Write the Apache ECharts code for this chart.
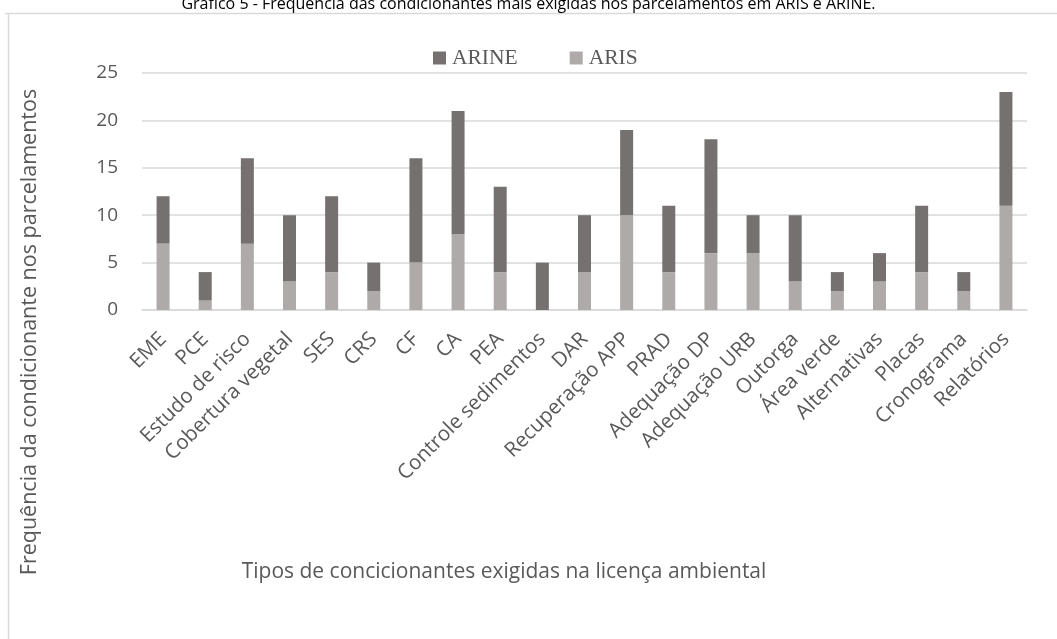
<!DOCTYPE html>
<html>
<head>
<meta charset="utf-8">
<script src="https://cdn.jsdelivr.net/npm/echarts@6/dist/echarts.min.js"></script>
<style>
  html, body { margin: 0; padding: 0; background: #fff; }
  #chart { width: 1057px; height: 639px; }
</style>
</head>
<body>
<div id="chart"></div>
<script>
var categories = ['EME', 'PCE', 'Estudo de risco', 'Cobertura vegetal', 'SES', 'CRS', 'CF', 'CA', 'PEA',
  'Controle sedimentos', 'DAR', 'Recuperação APP', 'PRAD', 'Adequação DP', 'Adequação URB', 'Outorga',
  'Área verde', 'Alternativas', 'Placas', 'Cronograma', 'Relatórios'];
var aris = [7, 1, 7, 3, 4, 2, 5, 8, 4, 0, 4, 10, 4, 6, 6, 3, 2, 3, 4, 2, 11];
var arine = [5, 3, 9, 7, 8, 3, 11, 13, 9, 5, 6, 9, 7, 12, 4, 7, 2, 3, 7, 2, 12];
var yTicks = [0, 5, 10, 15, 20, 25];

(function () {
  var myChart = echarts.init(document.getElementById('chart'));
  var font = '"Open Sans", sans-serif';
  var option = {
    animation: false,
    // 标题（上半部分被截掉）
    title: {
      text: 'Gráfico 5 - Frequência das condicionantes mais exigidas nos parcelamentos em ARIS e ARINE.',
      left: 'center',
      top: -9,
      textStyle: { fontFamily: font, fontSize: 16, fontWeight: 'normal', color: '#000' }
    },
    // 外框线和坐标轴标题
    graphic: [
      { type: 'line', shape: { x1: 5, y1: 13.5, x2: 1057, y2: 13.5 }, style: { stroke: '#d9d9d9', lineWidth: 1.5 }, silent: true },
      { type: 'line', shape: { x1: 8.5, y1: 13, x2: 8.5, y2: 639 }, style: { stroke: '#d9d9d9', lineWidth: 1.5 }, silent: true },
      {
        type: 'text',
        x: 30, y: 332,
        rotation: Math.PI / 2,
        style: {
          text: 'Frequência da condicionante nos parcelamentos',
          font: '21.5px "Open Sans", sans-serif',
          fill: '#595959',
          align: 'center',
          verticalAlign: 'middle'
        },
        silent: true
      },
      {
        type: 'text',
        x: 504, y: 572,
        style: {
          text: 'Tipos de concicionantes exigidas na licença ambiental',
          font: '21px "Open Sans", sans-serif',
          fill: '#595959',
          align: 'center',
          verticalAlign: 'middle'
        },
        silent: true
      }
    ],
    legend: {
      data: ['ARINE', 'ARIS'],
      top: 42,
      left: 428,
      itemWidth: 13,
      itemHeight: 13,
      itemGap: 52,
      icon: 'rect',
      textStyle: { fontFamily: '"Liberation Serif", serif', fontSize: 21.5, color: '#595959', padding: [0, 0, 0, 1] }
    },
    grid: {
      left: 142,
      right: 30,
      top: 73,
      bottom: 329,
      containLabel: false,
      outerBoundsMode: 'none'
    },
    xAxis: {
      type: 'category',
      data: categories,
      axisLine: { lineStyle: { color: '#d9d9d9', width: 1.5 } },
      axisTick: { show: false },
      axisLabel: {
        rotate: 45,
        interval: 0,
        margin: 26,
        fontFamily: font,
        fontSize: 20.5,
        color: '#595959'
      }
    },
    yAxis: {
      type: 'value',
      min: 0,
      max: 25,
      interval: 5,
      axisLine: { show: false },
      axisTick: { show: false },
      splitLine: { lineStyle: { color: '#d9d9d9', width: 1.5 } },
      axisLabel: {
        margin: 24,
        fontFamily: font,
        fontSize: 19,
        color: '#595959',
        formatter: function (v) { return yTicks.indexOf(v) >= 0 ? String(v) : ''; }
      }
    },
    series: [
      {
        name: 'ARIS',
        type: 'bar',
        stack: 'total',
        barWidth: 13,
        data: aris,
        itemStyle: { color: '#aeaaaa' }
      },
      {
        name: 'ARINE',
        type: 'bar',
        stack: 'total',
        barWidth: 13,
        data: arine,
        itemStyle: { color: '#767171' }
      }
    ]
  };
  myChart.setOption(option);
  window.addEventListener('resize', function () {
    myChart.resize();
  });
})();
</script>
</body>
</html>
